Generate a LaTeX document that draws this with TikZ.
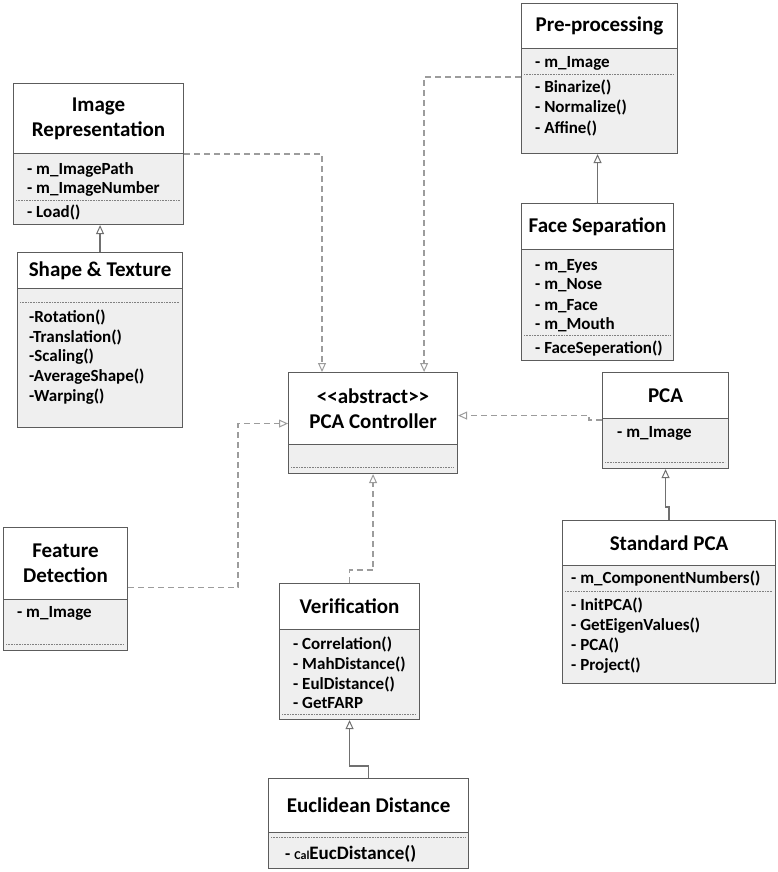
\documentclass[tikz,border=0pt]{standalone}
\usepackage{fontspec}
\setmainfont{Carlito}
\usetikzlibrary{arrows.meta,calc}
\definecolor{bordc}{HTML}{5C5C5C}
\definecolor{compc}{HTML}{EFEFEF}
\definecolor{dashc}{HTML}{9C9C9C}
\definecolor{linec}{HTML}{707070}
\tikzset{
  ttl/.style={draw=bordc, fill=white, line width=1.1pt, anchor=north west, inner sep=0pt, align=center,
    font=\fontsize{21}{25}\selectfont\bfseries},
  bdy/.style={draw=bordc, fill=compc, line width=1.1pt, anchor=north west, inner sep=0pt},
  itm/.style={anchor=base west, inner sep=0pt, font=\fontsize{17}{20}\selectfont\bfseries},
  dotl/.style={draw=gray, line width=0.7pt, dash pattern=on 0.8pt off 0.8pt},
  tip/.style={-{Triangle[length=9pt, width=8pt, fill=white, line width=1pt]}},
  inh/.style={tip, draw=linec, line width=1.2pt},
  real/.style={tip, draw=dashc, line width=1.3pt, dash pattern=on 6pt off 4pt},
}
\begin{document}
\begin{tikzpicture}[x=1pt, y=-1pt]
\useasboundingbox (0,0) rectangle (778,872);

% Image Representation
\node[ttl, minimum width=170pt, minimum height=70pt] (imgrepT) at (13,83) {Image\\Representation};
\node[bdy, minimum width=170pt, minimum height=71pt] (imgrepB) at (13,153) {};
\node[itm] (i1a) at (27,174.5) {- m\_ImagePath};
\node[itm] (i1b) at (27,193.5) {- m\_ImageNumber};
\draw[dotl] (16,200) -- (180,200);
\node[itm] (i1c) at (27,217.5) {- Load()};

% Shape & Texture
\node[ttl, minimum width=165pt, minimum height=36pt] (shapeT) at (17,252) {Shape \& Texture};
\node[bdy, minimum width=165pt, minimum height=139pt] (shapeB) at (17,288) {};
\draw[dotl] (20,302) -- (179,302);
\node[itm] (i2a) at (29,322.5) {-Rotation()};
\node[itm] (i2b) at (29,342.5) {-Translation()};
\node[itm] (i2c) at (29,361.5) {-Scaling()};
\node[itm] (i2d) at (29,381.5) {-AverageShape()};
\node[itm] (i2e) at (29,401.5) {-Warping()};

% Pre-processing
\node[ttl, minimum width=156pt, minimum height=45pt] (preT) at (521,3) {Pre-processing};
\node[bdy, minimum width=156pt, minimum height=105pt] (preB) at (521,48) {};
\node[itm] (i3a) at (535,67.5) {- m\_Image};
\draw[dotl] (524,74) -- (674,74);
\node[itm] (i3b) at (535,92.5) {- Binarize()};
\node[itm] (i3c) at (535,112.5) {- Normalize()};
\node[itm] (i3d) at (535,133.5) {- Affine()};

% Face Separation
\node[ttl, minimum width=152pt, minimum height=46pt] (faceT) at (521,203) {Face Separation};
\node[bdy, minimum width=152pt, minimum height=111pt] (faceB) at (521,249) {};
\node[itm] (i4a) at (535,270.5) {- m\_Eyes};
\node[itm] (i4b) at (535,289.5) {- m\_Nose};
\node[itm] (i4c) at (535,310.5) {- m\_Face};
\node[itm] (i4d) at (535,329.5) {- m\_Mouth};
\draw[dotl] (524,335) -- (670,335);
\node[itm] (i4e) at (535,353.5) {- FaceSeperation()};

% PCA Controller
\node[ttl, minimum width=169pt, minimum height=72pt] (ctrlT) at (288,372) {<{}<abstract>{}>\\PCA Controller};
\node[bdy, minimum width=169pt, minimum height=29pt] (ctrlB) at (288,444) {};
\draw[dotl] (291,467) -- (454,467);

% PCA
\node[ttl, minimum width=126pt, minimum height=46pt] (pcaT) at (602,372) {PCA};
\node[bdy, minimum width=126pt, minimum height=50pt] (pcaB) at (602,418) {};
\node[itm] (i5a) at (617,437.5) {- m\_Image};
\draw[dotl] (605,462) -- (725,462);

% Feature Detection
\node[ttl, minimum width=124pt, minimum height=72pt] (fdT) at (3,527) {Feature\\Detection};
\node[bdy, minimum width=124pt, minimum height=51pt] (fdB) at (3,599) {};
\node[itm] (i6a) at (17,617.5) {- m\_Image};
\draw[dotl] (6,644) -- (124,644);

% Verification
\node[ttl, minimum width=140pt, minimum height=46pt] (verT) at (279,583) {Verification};
\node[bdy, minimum width=140pt, minimum height=90pt] (verB) at (279,629) {};
\node[itm] (i7a) at (293,649.5) {- Correlation()};
\node[itm] (i7b) at (293,669.5) {- MahDistance()};
\node[itm] (i7c) at (293,689.5) {- EulDistance()};
\node[itm] (i7d) at (293,708.5) {- GetFARP};
\draw[dotl] (282,714) -- (416,714);

% Standard PCA
\node[ttl, minimum width=213pt, minimum height=45pt] (stdT) at (562,520) {Standard PCA};
\node[bdy, minimum width=213pt, minimum height=118pt] (stdB) at (562,565) {};
\node[itm] (i8a) at (571,583.5) {- m\_ComponentNumbers()};
\draw[dotl] (565,591) -- (772,591);
\node[itm] (i8b) at (571,610.5) {- InitPCA()};
\node[itm] (i8c) at (571,630.5) {- GetEigenValues()};
\node[itm] (i8d) at (571,650.5) {- PCA()};
\node[itm] (i8e) at (571,670.5) {- Project()};

% Euclidean Distance
\node[ttl, minimum width=200pt, minimum height=54pt] (eucT) at (268,778) {Euclidean Distance};
\node[bdy, minimum width=200pt, minimum height=36pt] (eucB) at (268,832) {};
\draw[dotl] (271,837) -- (465,837);
\node[itm] (i9a) at (285,859.5) {- {\fontsize{12}{14}\selectfont Cal}{\fontsize{19}{22}\selectfont EucDistance()}};

% inheritance (solid)
\draw[inh] (shapeT.north) -- (shapeT.north |- imgrepB.south);
\draw[inh] (faceT.north) -- (faceT.north |- preB.south);
\draw[inh] (stdT.north) -- ++(0,-13) -| (pcaB.south);
\draw[inh] (eucT.north) -- ++(0,-12) -| (verB.south);

% realization (dashed)
\draw[real] (imgrepT.south east) -| ([xshift=34pt]ctrlT.north west);
\draw[real] ([yshift=-29pt]preB.north west) -| ([xshift=-34pt]ctrlT.north east);
\draw[real] ([yshift=-24pt]fdT.east) -- ++(110,0) |- ([yshift=-15pt]ctrlT.west);
\draw[real] ([yshift=-1pt]pcaT.south west) -- ++(-13,0) |- ([yshift=-7pt]ctrlT.east);
\draw[real] (verT.north) -- ++(0,-13) -| (ctrlB.south);
\end{tikzpicture}
\end{document}
